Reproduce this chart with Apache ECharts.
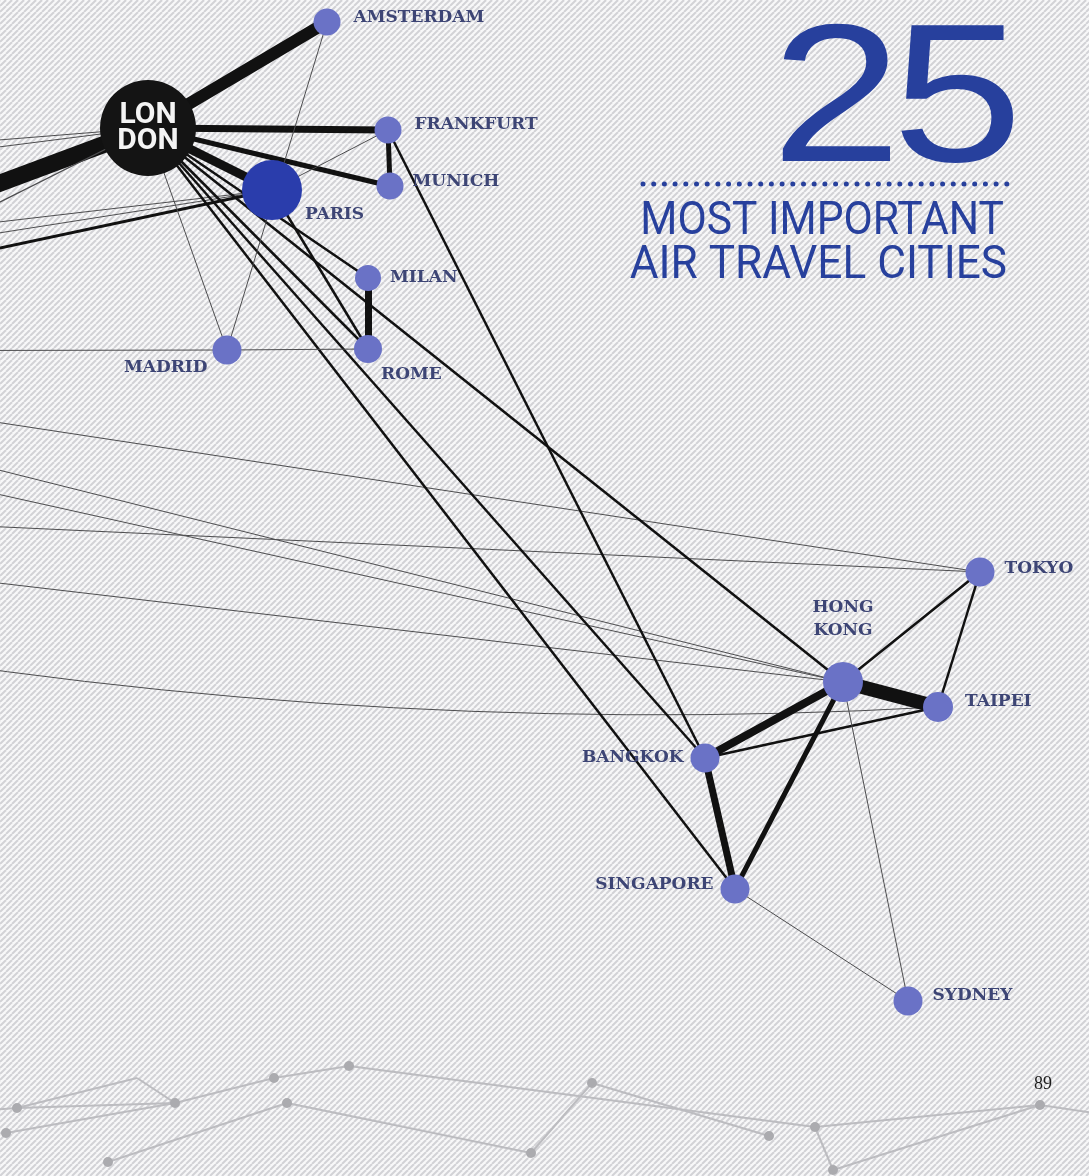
<!DOCTYPE html>
<html>
<head>
<meta charset="utf-8">
<title>25 most important air travel cities</title>
<script src="https://cdn.jsdelivr.net/npm/echarts@6/dist/echarts.min.js"></script>
<style>
  html, body { margin: 0; padding: 0; background: #f6f6f7; }
  #main { width: 1089px; height: 1176px; }
</style>
</head>
<body>
<div id="main"></div>
<script>
// cities, positions on the page (px), marker size
var cityNames = ['LONDON', 'AMSTERDAM', 'FRANKFURT', 'MUNICH', 'PARIS', 'MILAN', 'ROME', 'MADRID',
                 'TOKYO', 'HONG KONG', 'TAIPEI', 'BANGKOK', 'SINGAPORE', 'SYDNEY'];
var cityX = [148, 327, 388, 390, 272, 368, 368, 227, 980, 843, 938, 705, 735, 908];
var cityY = [128, 22, 130, 186, 190, 278, 349, 350, 572, 682, 707, 758, 889, 1001];
var citySize = [96, 27, 27, 27, 60, 26, 28, 29, 29, 40, 30, 29, 29, 29];

// cities off the left edge of the page (the other half of the spread)
var westNames = ['west 1', 'west 2', 'west 3', 'west 4', 'west 5', 'west 6', 'west 7', 'west 8',
                 'west 9', 'west 10', 'west 11', 'west 12', 'west 13', 'west 14'];
var westX = [-300, -300, -300, -300, -300, -300, -300, -300, -300, -300, -300, -300, -300, -300];
var westY = [295, 164, 185, 352, 257, 280, 312, 351, 377, 513, 395, 428, 548, 621];

// routes: from, to, traffic weight (line width), bend
var routes = [
  ['LONDON', 'west 1', 17, 0],
  ['LONDON', 'west 2', 1, 0],
  ['LONDON', 'west 3', 1, 0],
  ['LONDON', 'west 4', 1.2, 0],
  ['PARIS', 'west 5', 1, 0],
  ['PARIS', 'west 6', 1, 0],
  ['PARIS', 'west 7', 3, 0],
  ['MADRID', 'west 8', 1, 0],
  ['west 9', 'TOKYO', 1, 0],
  ['west 10', 'TOKYO', 1, 0],
  ['west 11', 'HONG KONG', 1, 0],
  ['west 12', 'HONG KONG', 1, 0],
  ['west 13', 'HONG KONG', 1, 0],
  ['west 14', 'TAIPEI', 1, -0.063],
  ['LONDON', 'AMSTERDAM', 12, 0],
  ['LONDON', 'FRANKFURT', 7, 0],
  ['LONDON', 'MUNICH', 5, 0],
  ['LONDON', 'PARIS', 9, 0],
  ['FRANKFURT', 'MUNICH', 5, 0],
  ['MILAN', 'ROME', 7, 0],
  ['LONDON', 'MILAN', 2.5, 0],
  ['LONDON', 'ROME', 2.5, 0],
  ['PARIS', 'ROME', 2.5, 0],
  ['LONDON', 'HONG KONG', 2.5, 0],
  ['LONDON', 'BANGKOK', 2.5, 0],
  ['LONDON', 'SINGAPORE', 2.5, 0],
  ['FRANKFURT', 'BANGKOK', 2.5, 0],
  ['AMSTERDAM', 'MADRID', 1, 0],
  ['LONDON', 'MADRID', 1, 0],
  ['PARIS', 'FRANKFURT', 1, 0],
  ['MADRID', 'ROME', 1, 0],
  ['HONG KONG', 'TAIPEI', 14, 0],
  ['HONG KONG', 'BANGKOK', 8, 0],
  ['HONG KONG', 'SINGAPORE', 5, 0],
  ['BANGKOK', 'SINGAPORE', 7, 0],
  ['BANGKOK', 'TAIPEI', 2.5, 0],
  ['HONG KONG', 'TOKYO', 2.5, 0],
  ['TOKYO', 'TAIPEI', 2.5, 0],
  ['HONG KONG', 'SYDNEY', 1, 0],
  ['SINGAPORE', 'SYDNEY', 1, 0]
];

// grey network from the next page, bottom strip
var decoX = [17, 6, 137, 175, 274, 349, 287, 108, 531, 592, 769, 815, 833, 1040, 1120, -40];
var decoY = [1108, 1133, 1078, 1103, 1078, 1066, 1103, 1162, 1153, 1083, 1136, 1127, 1170, 1105, 1117, 1112];
var decoDot = [1, 1, 0, 1, 1, 1, 1, 1, 1, 1, 1, 1, 1, 1, 0, 0];
var decoLinks = [[0, 2], [2, 3], [0, 3], [1, 3], [3, 4], [4, 5], [5, 11], [7, 6], [6, 8], [8, 9],
                 [9, 10], [11, 12], [11, 13], [12, 13], [13, 14], [15, 0]];

// label placement per city
var labelPos = {
  'LONDON':    { position: 'inside' },
  'AMSTERDAM': { position: 'right', distance: 13, offset: [0, -4] },
  'FRANKFURT': { position: 'right', distance: 13, offset: [0, -5] },
  'MUNICH':    { position: 'right', distance: 9, offset: [0, -4] },
  'PARIS':     { position: 'right', distance: 5, offset: [-2, 25] },
  'MILAN':     { position: 'right', distance: 9, offset: [0, 0] },
  'ROME':      { position: 'right', distance: 5, offset: [-6, 26] },
  'MADRID':    { position: 'left', distance: 5, offset: [0, 18] },
  'TOKYO':     { position: 'right', distance: 10, offset: [0, -3] },
  'HONG KONG': { position: 'top', distance: 20, offset: [0, 0] },
  'TAIPEI':    { position: 'right', distance: 12, offset: [0, -5] },
  'BANGKOK':   { position: 'left', distance: 7, offset: [0, 0] },
  'SINGAPORE': { position: 'left', distance: 7, offset: [0, -4] },
  'SYDNEY':    { position: 'right', distance: 10, offset: [0, -5] }
};

// diagonal hatch tile for the page background
function hatchTile() {
  var c = document.createElement('canvas');
  c.width = 6; c.height = 6;
  var ctx = c.getContext('2d');
  ctx.fillStyle = '#f8f8f9';
  ctx.fillRect(0, 0, 6, 6);
  ctx.strokeStyle = '#d2d2d6';
  ctx.lineWidth = 2;
  for (var k = -6; k <= 6; k += 6) {
    ctx.beginPath();
    ctx.moveTo(k, 6);
    ctx.lineTo(k + 6, 0);
    ctx.stroke();
  }
  return c;
}

var nodes = [];
for (var i = 0; i < cityNames.length; i++) {
  var nm = cityNames[i];
  var lp = labelPos[nm];
  var item = {
    name: nm,
    value: [cityX[i], cityY[i]],
    symbolSize: citySize[i],
    itemStyle: { color: '#6a72c6' },
    label: {
      show: true,
      position: lp.position,
      distance: lp.distance,
      offset: lp.offset,
      color: '#3d4575',
      fontFamily: 'DejaVu Serif',
      fontWeight: 'bold',
      fontSize: 17
    }
  };
  if (nm == 'LONDON') {
    item.itemStyle.color = '#141414';
    item.label = {
      show: true, position: 'inside', formatter: 'LON\nDON',
      color: '#f4f4f4', fontFamily: 'Roboto', fontWeight: 'bold', fontSize: 30, lineHeight: 26
    };
  }
  if (nm == 'PARIS') item.itemStyle.color = '#2a3dac';
  if (nm == 'HONG KONG') {
    item.label.formatter = 'HONG\nKONG';
    item.label.lineHeight = 23;
    item.label.align = 'center';
  }
  nodes.push(item);
}
for (var j = 0; j < westNames.length; j++) {
  nodes.push({ name: westNames[j], value: [westX[j], westY[j]], symbolSize: 1, label: { show: false } });
}

var links = routes.map(function (r) {
  var thin = r[2] <= 1.2;
  return {
    source: r[0], target: r[1],
    lineStyle: { width: r[2], color: thin ? '#4d4d4f' : '#111111', opacity: 1, curveness: r[3] }
  };
});

var decoNodes = decoX.map(function (x, n) {
  return { name: 'd' + n, value: [x, decoY[n]], symbolSize: decoDot[n] ? 10 : 0 };
});
var decoEdges = decoLinks.map(function (l) {
  return { source: 'd' + l[0], target: 'd' + l[1] };
});

var blue = '#27409d';
var chart = echarts.init(document.getElementById('main'));
var option = {
  backgroundColor: '#f7f7f8',
  animation: false,
  grid: { left: 0, right: 0, top: 0, bottom: 0 },
  xAxis: { type: 'value', min: 0, max: 1089, show: false },
  yAxis: { type: 'value', min: 0, max: 1176, inverse: true, show: false },
  graphic: [
    { type: 'rect', z: -10, silent: true, shape: { x: 0, y: 0, width: 1089, height: 1176 },
      style: { fill: { image: hatchTile(), repeat: 'repeat' } } },
    // big "25", digits set tight like the print
    { type: 'text', z: 100, x: 771, y: 107, scaleX: 1.2, silent: true,
      style: { text: '2', font: '400 196px "Liberation Sans"', fill: blue, textAlign: 'left', textVerticalAlign: 'middle' } },
    { type: 'text', z: 100, x: 892, y: 107, scaleX: 1.2, silent: true,
      style: { text: '5', font: '400 196px "Liberation Sans"', fill: blue, textAlign: 'left', textVerticalAlign: 'middle' } },
    { type: 'line', z: 100, silent: true,
      shape: { x1: 643, y1: 184, x2: 1008, y2: 184 },
      style: { stroke: blue, lineWidth: 5, lineCap: 'round', lineDash: [0, 10.7] } },
    { type: 'text', z: 100, x: 1004, y: 222, scaleX: 0.925, silent: true,
      style: { text: 'MOST IMPORTANT', font: '400 46px Roboto', fill: blue, textAlign: 'right', textVerticalAlign: 'middle' } },
    { type: 'text', z: 100, x: 1007, y: 266, scaleX: 0.96, silent: true,
      style: { text: 'AIR TRAVEL CITIES', font: '400 46px Roboto', fill: blue, textAlign: 'right', textVerticalAlign: 'middle' } },
    { type: 'text', z: 100, x: 1043, y: 1084, silent: true,
      style: { text: '89', font: '18px "Liberation Serif"', fill: '#1d1d1d', textAlign: 'center', textVerticalAlign: 'middle' } }
  ],
  series: [
    {
      type: 'graph',
      coordinateSystem: 'cartesian2d',
      silent: true,
      z: 1,
      data: decoNodes,
      links: decoEdges,
      itemStyle: { color: '#ababaf' },
      lineStyle: { color: '#bcbcc0', width: 2, opacity: 1 },
      label: { show: false }
    },
    {
      type: 'graph',
      coordinateSystem: 'cartesian2d',
      silent: true,
      z: 3,
      data: nodes,
      links: links,
      emphasis: { disabled: true }
    }
  ]
};
chart.setOption(option);
</script>
</body>
</html>
